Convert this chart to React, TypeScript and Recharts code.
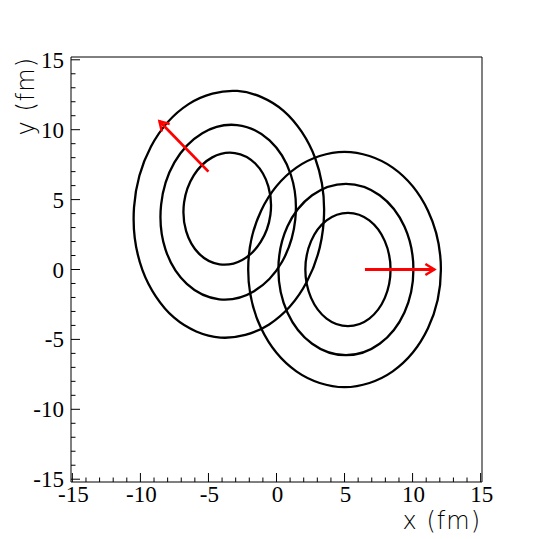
import React from 'react';
import { LineChart, Line, XAxis, YAxis, ReferenceArea, ReferenceLine } from 'recharts';

const xDomain = [-15.1, 15.1];
const yDomain = [-15.2, 15.2];
const axisTicks = [
  -15, -14, -13, -12, -11, -10, -9, -8, -7, -6, -5, -4, -3, -2, -1, 0,
  1, 2, 3, 4, 5, 6, 7, 8, 9, 10, 11, 12, 13, 14, 15,
];

// contour points (each one a closed loop)
const leftOuter = [
  { x: 3.47, y: 3.46 }, { x: 2.85, y: 7.94 }, { x: 0.52, y: 11.35 }, { x: -2.88, y: 12.77 },
  { x: -6.46, y: 11.83 }, { x: -9.23, y: 8.78 }, { x: -10.47, y: 4.44 }, { x: -9.85, y: -0.04 },
  { x: -7.52, y: -3.45 }, { x: -4.12, y: -4.87 }, { x: -0.54, y: -3.93 }, { x: 2.23, y: -0.88 },
];
const leftMiddle = [
  { x: 1.38, y: 3.58 }, { x: 1.06, y: 6.76 }, { x: -0.51, y: 9.23 }, { x: -2.9, y: 10.33 },
  { x: -5.45, y: 9.75 }, { x: -7.5, y: 7.66 }, { x: -8.48, y: 4.62 }, { x: -8.16, y: 1.44 },
  { x: -6.59, y: -1.03 }, { x: -4.2, y: -2.13 }, { x: -1.65, y: -1.55 }, { x: 0.4, y: 0.54 },
];
const leftInner = [
  { x: -0.45, y: 3.9 }, { x: -0.6, y: 5.95 }, { x: -1.56, y: 7.58 }, { x: -3.06, y: 8.33 },
  { x: -4.72, y: 8.02 }, { x: -6.08, y: 6.73 }, { x: -6.79, y: 4.8 }, { x: -6.64, y: 2.75 },
  { x: -5.68, y: 1.12 }, { x: -4.18, y: 0.37 }, { x: -2.52, y: 0.68 }, { x: -1.16, y: 1.97 },
];
const rightOuter = [
  { x: 12.08, y: 0 }, { x: 11.13, y: 4.21 }, { x: 8.54, y: 7.29 }, { x: 5.0, y: 8.42 },
  { x: 1.46, y: 7.29 }, { x: -1.13, y: 4.21 }, { x: -2.08, y: 0 }, { x: -1.13, y: -4.21 },
  { x: 1.46, y: -7.29 }, { x: 5.0, y: -8.42 }, { x: 8.54, y: -7.29 }, { x: 11.13, y: -4.21 },
];
const rightMiddle = [
  { x: 10.06, y: 0 }, { x: 9.4, y: 3.07 }, { x: 7.58, y: 5.31 }, { x: 5.1, y: 6.13 },
  { x: 2.62, y: 5.31 }, { x: 0.8, y: 3.07 }, { x: 0.14, y: 0 }, { x: 0.8, y: -3.07 },
  { x: 2.62, y: -5.31 }, { x: 5.1, y: -6.13 }, { x: 7.58, y: -5.31 }, { x: 9.4, y: -3.07 },
];
const rightInner = [
  { x: 8.38, y: 0 }, { x: 7.96, y: 2.03 }, { x: 6.82, y: 3.51 }, { x: 5.25, y: 4.05 },
  { x: 3.68, y: 3.51 }, { x: 2.54, y: 2.03 }, { x: 2.12, y: 0 }, { x: 2.54, y: -2.03 },
  { x: 3.68, y: -3.51 }, { x: 5.25, y: -4.05 }, { x: 6.82, y: -3.51 }, { x: 7.96, y: -2.03 },
];
const contours = [leftOuter, leftMiddle, leftInner, rightOuter, rightMiddle, rightInner];

const leftArrow = [{ x: -5.0, y: 7.0 }, { x: -8.6, y: 10.6 }];
const rightArrow = [{ x: 6.5, y: 0 }, { x: 11.6, y: 0 }];

const labelFont = '"Liberation Serif", "Times New Roman", serif';
const titleFont = '"DejaVu Sans", sans-serif';

// closed Catmull-Rom curve, so a loop has no seam
const closedCurve = (context: any) => {
  let pts: number[][] = [];
  return {
    areaStart() {},
    areaEnd() {},
    lineStart() {
      pts = [];
    },
    point(x: number, y: number) {
      pts.push([x, y]);
    },
    lineEnd() {
      const n = pts.length;
      if (!n) return;
      context.moveTo(pts[0][0], pts[0][1]);
      for (let i = 0; i < n; i++) {
        const p0 = pts[(i - 1 + n) % n];
        const p1 = pts[i];
        const p2 = pts[(i + 1) % n];
        const p3 = pts[(i + 2) % n];
        context.bezierCurveTo(
          p1[0] + (p2[0] - p0[0]) / 6,
          p1[1] + (p2[1] - p0[1]) / 6,
          p2[0] - (p3[0] - p1[0]) / 6,
          p2[1] - (p3[1] - p1[1]) / 6,
          p2[0],
          p2[1],
        );
      }
      context.closePath();
    },
  };
};

const XTick = (props: any) => {
  const { x, y, payload } = props;
  const major = payload.value % 5 === 0;
  return (
    <g>
      <line x1={x} y1={y} x2={x} y2={y - (major ? 9 : 4.5)} stroke="#000" strokeWidth={1} />
      {major && (
        <text x={x + 1} y={y + 20} textAnchor="middle" fontFamily={labelFont} fontSize={23} fill="#000">
          {payload.value}
        </text>
      )}
    </g>
  );
};

const YTick = (props: any) => {
  const { x, y, payload } = props;
  const major = payload.value % 5 === 0;
  return (
    <g>
      <line x1={x} y1={y} x2={x + (major ? 9 : 4.5)} y2={y} stroke="#000" strokeWidth={1} />
      {major && (
        <text x={x - 7} y={y + 8} textAnchor="end" fontFamily={labelFont} fontSize={23} fill="#000">
          {payload.value}
        </text>
      )}
    </g>
  );
};

export default function App() {
  return (
    <div style={{ position: 'absolute', left: 0, top: 0, width: 539, height: 539, background: '#fff' }}>
      <LineChart width={539} height={539} margin={{ top: 57, right: 57, left: 0, bottom: 0 }}>
        <defs>
          <marker
            id="arrowHead"
            viewBox="0 0 14 14"
            markerWidth={14}
            markerHeight={14}
            refX={11}
            refY={7}
            orient="auto"
            markerUnits="userSpaceOnUse"
          >
            <path d="M2,1.5 L11,7 L2,12.5" fill="none" stroke="#ff0000" strokeWidth={2.5} />
          </marker>
        </defs>
        <XAxis
          type="number"
          dataKey="x"
          domain={xDomain}
          allowDataOverflow
          ticks={axisTicks}
          interval={0}
          tick={<XTick />}
          tickLine={false}
          axisLine={false}
          tickSize={0}
          tickMargin={0}
          height={57}
        />
        <YAxis
          type="number"
          dataKey="y"
          domain={yDomain}
          allowDataOverflow
          ticks={axisTicks}
          interval={0}
          tick={<YTick />}
          tickLine={false}
          axisLine={false}
          tickSize={0}
          tickMargin={0}
          width={71}
        />
        <ReferenceArea
          x1={xDomain[0]}
          x2={xDomain[1]}
          y1={yDomain[0]}
          y2={yDomain[1]}
          fill="none"
          fillOpacity={0}
          stroke="#000"
          strokeWidth={1}
        />
        {contours.map((pts, i) => (
          <Line
            key={i}
            data={pts}
            dataKey="y"
            type={closedCurve as any}
            stroke="#000"
            strokeWidth={2.3}
            dot={false}
            activeDot={false}
            isAnimationActive={false}
          />
        ))}
        <ReferenceLine segment={leftArrow} stroke="#ff0000" strokeWidth={2.8} markerEnd="url(#arrowHead)" />
        <ReferenceLine segment={rightArrow} stroke="#ff0000" strokeWidth={2.8} markerEnd="url(#arrowHead)" />
        <text
          x={481}
          y={529}
          textAnchor="end"
          fontFamily={titleFont}
          fontWeight={200}
          fontSize={24}
          fill="#000"
          letterSpacing={1}
        >
          x (fm)
        </text>
        <text
          x={34}
          y={57}
          transform="rotate(-90 34 57)"
          textAnchor="end"
          fontFamily={titleFont}
          fontWeight={200}
          fontSize={24}
          fill="#000"
          letterSpacing={1}
        >
          y (fm)
        </text>
      </LineChart>
    </div>
  );
}
